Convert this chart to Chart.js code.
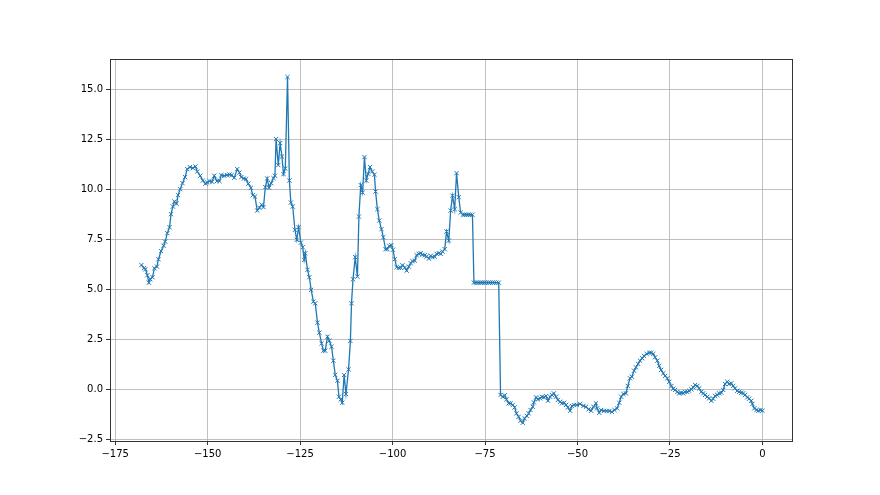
<!DOCTYPE html>
<html>
<head>
<meta charset="utf-8">
<script src="https://cdn.jsdelivr.net/npm/chart.js@4/dist/chart.umd.min.js"></script>
<style>
  html, body { margin: 0; padding: 0; background: #fff; }
  #chart { display: block; }
</style>
</head>
<body>
<canvas id="chart" width="880" height="495"></canvas>
<script>
// === Data ===
const xValues = [
  -167.9,-167.2,-166.8,-166.3,-165.9,-165.5,-164.9,-164.4,-163.7,-163.3,
  -162.6,-161.9,-161.5,-160.9,-160.3,-159.9,-159.4,-159.0,-158.4,-158.0,
  -157.4,-156.8,-156.1,-155.5,-154.8,-154.0,-153.3,-152.8,-152.0,-151.3,
  -150.6,-150.1,-149.5,-148.8,-148.2,-147.5,-146.8,-146.3,-145.5,-144.8,
  -144.1,-143.5,-142.8,-142.0,-141.4,-140.9,-140.2,-139.6,-139.0,-138.3,
  -137.8,-137.2,-136.6,-136.0,-135.4,-134.9,-134.4,-133.9,-133.4,-132.8,
  -132.2,-131.8,-131.5,-130.9,-130.4,-129.9,-129.5,-129.0,-128.4,-127.9,
  -127.5,-127.0,-126.4,-125.9,-125.4,-124.8,-124.3,-123.9,-123.6,-123.0,
  -122.5,-122.0,-121.4,-120.9,-120.3,-119.8,-119.2,-118.7,-118.2,-117.6,
  -117.1,-116.5,-116.0,-115.5,-114.9,-114.5,-114.0,-113.6,-113.1,-112.6,
  -111.9,-111.4,-111.1,-110.7,-110.1,-109.5,-109.1,-108.6,-108.1,-107.6,
  -107.1,-106.6,-106.1,-105.5,-104.9,-104.6,-104.1,-103.6,-103.0,-102.5,
  -101.9,-101.4,-100.9,-100.3,-99.9,-99.4,-98.9,-98.3,-97.8,-97.3,
  -96.7,-96.2,-95.6,-95.1,-94.6,-94.0,-93.5,-92.9,-92.4,-91.9,
  -91.3,-90.8,-90.2,-89.7,-89.2,-88.6,-88.1,-87.5,-87.0,-86.5,
  -85.9,-85.4,-84.8,-84.3,-83.8,-83.2,-82.7,-82.1,-81.6,-81.0,
  -80.5,-80.0,-79.5,-79.0,-78.4,-78.0,-77.4,-76.9,-76.3,-75.8,
  -75.2,-74.7,-74.1,-73.6,-73.0,-72.5,-71.9,-71.3,
  -70.8,-70.2,-69.7,-69.2,-68.6,-68.1,-67.5,-67.0,-66.5,-65.9,
  -65.4,-64.8,-64.3,-63.7,-63.2,-62.7,-62.1,-61.8,-61.2,-60.7,
  -60.1,-59.6,-59.1,-58.5,-58.0,-57.4,-56.9,-56.4,-55.8,-55.3,
  -54.7,-54.2,-53.6,-53.1,-52.6,-52.0,-51.5,-50.9,
  -50.2,-49.3,-48.4,-47.7,-47.0,-46.3,-45.7,-45.0,-44.7,-44.1,
  -43.6,-42.8,-42.1,-41.4,-40.7,-40.0,-39.3,-38.7,-38.2,-37.6,
  -36.9,-36.4,-35.8,-35.3,-34.7,-34.2,-33.6,-33.1,-32.5,-32.0,
  -31.3,-30.6,-30.1,-29.5,-29.0,-28.4,-27.9,-27.4,-26.8,-26.3,
  -25.7,-25.2,-24.6,-24.1,-23.6,-23.0,-22.5,-22.0,-21.4,-20.9,
  -20.3,-19.8,-19.2,-18.7,-18.2,-17.6,-17.1,-16.5,-16.0,-15.5,
  -14.9,-14.4,-13.8,-13.3,-12.8,-12.2,-11.7,-11.1,-10.6,-10.1,
  -9.5,-9.0,-8.4,-7.9,-7.4,-6.8,-6.3,-5.7,-5.2,-4.7,
  -4.1,-3.6,-3.0,-2.7,-2.2,-1.6,-1.1,-0.5,0.0
];

const yValues = [
  6.21,6.05,6.0,5.7,5.33,5.5,5.6,6.05,6.13,6.5,
  6.9,7.17,7.38,7.8,8.1,8.75,9.13,9.38,9.27,9.7,
  10.0,10.3,10.6,11.0,11.1,11.05,11.13,10.88,10.67,10.43,
  10.27,10.33,10.4,10.37,10.67,10.4,10.4,10.7,10.67,10.7,
  10.73,10.7,10.57,11.0,10.83,10.6,10.53,10.5,10.27,10.07,
  9.7,9.63,8.93,9.07,9.22,9.1,10.1,10.53,10.07,10.3,
  10.55,10.67,12.5,11.2,12.3,11.63,10.75,11.03,15.6,10.43,
  9.33,9.13,7.97,7.47,8.1,7.33,7.1,6.47,6.8,5.97,
  5.6,4.97,4.38,4.3,3.33,2.83,2.3,1.93,1.93,2.63,
  2.43,2.13,1.43,0.72,0.43,-0.37,-0.5,-0.67,0.72,-0.23,
  1.0,2.42,4.3,5.5,6.6,5.63,8.63,10.2,9.83,11.6,
  10.43,10.77,11.1,10.88,10.72,9.88,9.0,8.43,8.0,7.6,
  7.0,7.0,7.17,7.2,6.97,6.5,6.1,6.07,6.08,6.2,
  6.08,5.93,6.13,6.3,6.4,6.43,6.7,6.77,6.8,6.72,
  6.7,6.63,6.53,6.67,6.6,6.63,6.77,6.8,6.77,6.88,
  7.0,7.88,7.43,8.93,9.67,9.0,10.8,9.6,8.83,8.72,
  8.72,8.72,8.72,8.72,8.72,5.33,5.33,5.33,5.33,5.33,
  5.33,5.33,5.33,5.33,5.33,5.33,5.33,5.33,
  -0.28,-0.37,-0.3,-0.5,-0.7,-0.7,-0.78,-0.9,-1.2,-1.37,
  -1.57,-1.67,-1.45,-1.33,-1.2,-1.03,-0.87,-0.65,-0.4,-0.5,
  -0.45,-0.37,-0.4,-0.33,-0.57,-0.37,-0.28,-0.2,-0.37,-0.53,
  -0.62,-0.7,-0.67,-0.78,-0.9,-1.07,-0.83,-0.78,
  -0.78,-0.73,-0.83,-0.87,-1.0,-1.07,-0.87,-0.7,-0.95,-1.17,
  -1.03,-1.07,-1.08,-1.08,-1.13,-1.03,-0.95,-0.67,-0.37,-0.23,
  -0.2,0.17,0.55,0.63,0.93,1.1,1.27,1.43,1.55,1.67,
  1.77,1.83,1.83,1.77,1.6,1.43,1.17,0.97,0.8,0.67,
  0.55,0.38,0.17,0.03,-0.03,-0.13,-0.2,-0.17,-0.2,-0.13,
  -0.13,-0.07,0.0,0.1,0.22,0.17,0.05,-0.12,-0.2,-0.28,
  -0.37,-0.45,-0.57,-0.47,-0.33,-0.28,-0.2,-0.17,-0.03,0.27,
  0.38,0.27,0.3,0.17,0.05,-0.07,-0.13,-0.17,-0.2,-0.28,
  -0.4,-0.47,-0.57,-0.73,-0.95,-1.03,-1.07,-1.03,-1.07
];

const xTicks = [-175, -150, -125, -100, -75, -50, -25, 0];
const yTicks = [-2.5, 0.0, 2.5, 5.0, 7.5, 10.0, 12.5, 15.0];

const points = xValues.map((x, i) => ({ x: x, y: yValues[i] }));
const minus = s => String(s).replace("-", "\u2212");

// рамка вокруг области графика (как у matplotlib)
const framePlugin = {
  id: "frame",
  afterDraw(chart) {
    const a = chart.chartArea;
    const c = chart.ctx;
    c.save();
    c.strokeStyle = "#333";
    c.lineWidth = 1;
    c.strokeRect(Math.round(a.left) + 0.5, Math.round(a.top) + 0.5,
      Math.round(a.right - a.left), Math.round(a.bottom - a.top));
    c.restore();
  }
};

const font = { family: "DejaVu Sans", size: 10 };

new Chart(document.getElementById("chart"), {
  type: "scatter",
  data: {
    datasets: [{
      data: points,
      showLine: true,
      borderColor: "#1f77b4",
      borderWidth: 1.3,
      pointStyle: "crossRot",
      pointRadius: 3,
      pointBorderWidth: 1,
      pointBorderColor: "#1f77b4",
      pointBackgroundColor: "#1f77b4",
      tension: 0
    }]
  },
  options: {
    responsive: false,
    animation: false,
    layout: { padding: { top: 59, right: 88, left: 0, bottom: 0 } },
    plugins: { legend: { display: false }, tooltip: { enabled: false } },
    scales: {
      x: {
        type: "linear",
        min: -176.4,
        max: 8.0,
        afterBuildTicks: s => { s.ticks = xTicks.map(v => ({ value: v })); },
        afterFit: s => { s.height = 54; },
        ticks: { font: font, color: "#000", padding: 3, maxRotation: 0,
          callback: v => minus(v) },
        grid: { color: "#b0b0b0", lineWidth: 0.8, tickLength: 4, tickColor: "#000", drawTicks: true },
        border: { display: false }
      },
      y: {
        type: "linear",
        min: -2.58,
        max: 16.5,
        afterBuildTicks: s => { s.ticks = yTicks.map(v => ({ value: v })); },
        afterFit: s => { s.width = 110; },
        ticks: { font: font, color: "#000", padding: 3,
          callback: v => minus(Number(v).toFixed(1)) },
        grid: { color: "#b0b0b0", lineWidth: 0.8, tickLength: 4, tickColor: "#000", drawTicks: true },
        border: { display: false }
      }
    }
  },
  plugins: [framePlugin]
});
</script>
</body>
</html>
